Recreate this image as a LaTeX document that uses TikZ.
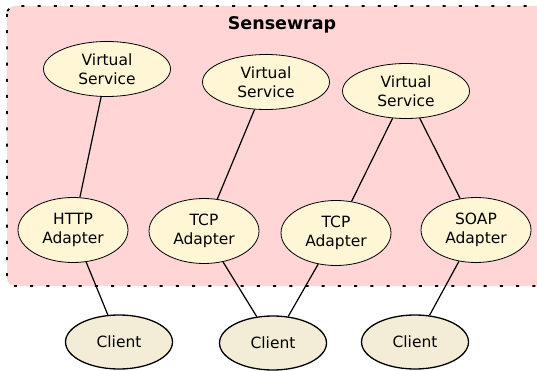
\documentclass[tikz,border=0pt]{standalone}
\usepackage{fontspec}
\setmainfont{DejaVu Sans}
\usetikzlibrary{shapes.geometric}

\definecolor{wrapfill}{HTML}{FFD5D5}
\definecolor{partfill}{HTML}{FFF6D5}
\definecolor{clientfill}{HTML}{F3EDD7}

\begin{document}
\begin{tikzpicture}[x=10pt,y=-10pt,semithick,
    part/.style={shape=ellipse,draw=black,fill=partfill,line width=0.8pt,inner sep=0pt,align=center,
      font=\fontsize{15.5}{19}\selectfont},
    service/.style={part,minimum width=127pt,minimum height=55pt},
    adapter/.style={part,minimum width=110pt,minimum height=65pt},
    client/.style={part,fill=clientfill,line width=1.3pt,minimum width=107pt,minimum height=54pt}]
                \path[use as bounding box,clip] (0,0) rectangle (53.7,37.1);
                \path[fill=wrapfill,draw=black,line width=1.8pt,rounded corners=8pt,
                  dash pattern=on 3pt off 13.2pt] (0.7,0.6) rectangle (55.5,28.6);
                \node[font=\fontsize{17.5}{20}\bfseries\selectfont](Title)at(28.2, 2.5){Sensewrap};
                \node[service](VS1)at(10.7, 6.9){Virtual\\Service};
                \node[service](VS2)at(26.6, 8.2){Virtual\\Service};
                \node[service](VS3)at(40.6, 9.1){Virtual\\Service};
                \node[adapter](HTTP)at(7.3, 23.0){HTTP\\Adapter};
                \node[adapter](TCP1)at(20.4, 23.1){TCP\\Adapter};
                \node[adapter](TCP2)at(33.6, 23.3){TCP\\Adapter};
                \node[adapter](SOAP)at(47.6, 23.0){SOAP\\Adapter};
                \node[client](C1)at(11.9, 34.2){Client};
                \node[client](C2)at(27.3, 34.3){Client};
                \node[client](C3)at(41.5, 34.2){Client};
                \path[line width=1.2pt](VS1) edge (HTTP)
                (VS2) edge (TCP1)
                (VS3) edge (TCP2)
                (VS3) edge (SOAP)
                (HTTP) edge (C1)
                (TCP1) edge (C2)
                (TCP2) edge (C2)
                (SOAP) edge (C3);
            \end{tikzpicture}
\end{document}
